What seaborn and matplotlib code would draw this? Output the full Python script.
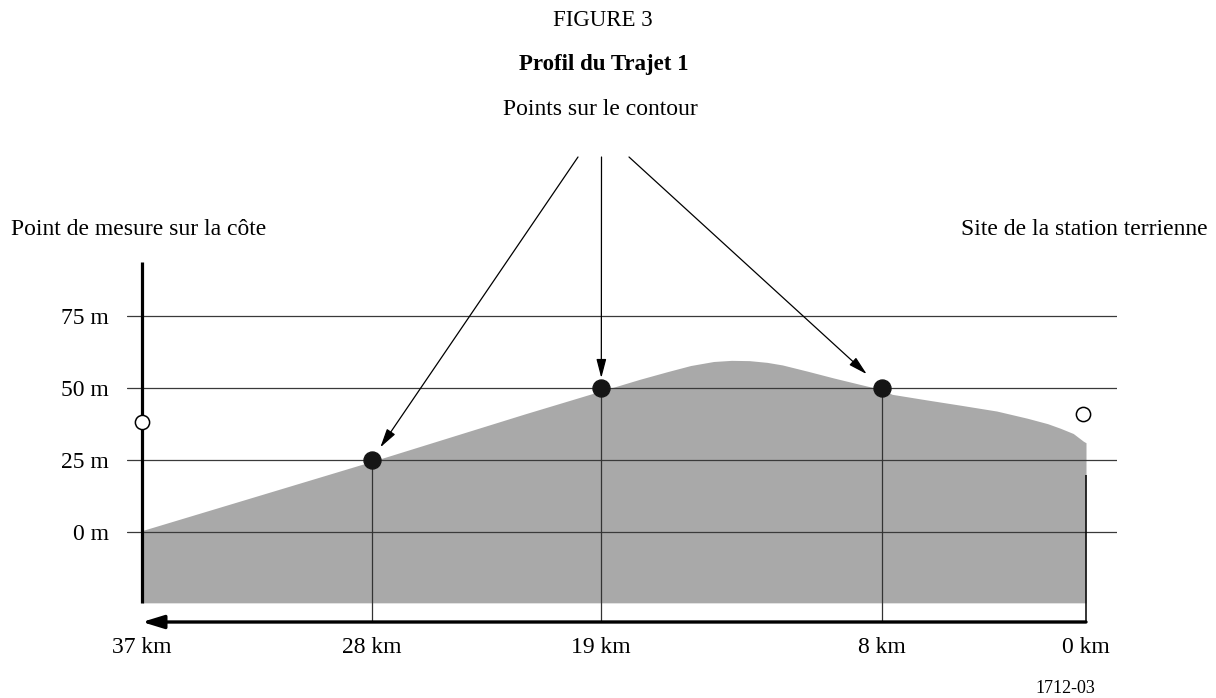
import matplotlib
matplotlib.use("Agg")
import matplotlib.pyplot as plt
import pandas as pd
import seaborn as sns

# Profil du terrain : distance depuis la station (km) et altitude (m)
profil_km = [37, 28, 22, 19, 17.5, 16.4, 15.5, 14.6, 13.9, 13.2, 12.5, 11.9, 10.9, 9.9,
             8.6, 8.0, 7.6, 6.2, 4.9, 3.5, 2.3, 1.5, 1.0, 0.5, 0.1, 0]
profil_m = [0.5, 24.5, 41, 49, 53, 55.7, 57.8, 59.2, 59.6, 59.5, 58.9, 58, 55.8, 53.5,
            50.7, 49.5, 47.8, 45.8, 44, 42, 39.5, 37.6, 36, 34.2, 31.5, 31]
base_m = -24.6

# Points sur le contour
contour_km = [28, 19, 8]
contour_m = [25, 50, 50]

# Antennes (point de mesure / station terrienne)
antenne_km = [37, 0.1]
antenne_m = [38.2, 41]
station_km = 0
station_haut_m = 19.8

yticks = [0, 25, 50, 75]
ytick_labels = ["0 m", "25 m", "50 m", "75 m"]
xticks = [37, 28, 19, 8, 0]
xtick_labels = ["37 km", "28 km", "19 km", "8 km", "0 km"]

df_profil = pd.DataFrame({"km": profil_km, "m": profil_m})
df_contour = pd.DataFrame({"km": contour_km, "m": contour_m})
df_antenne = pd.DataFrame({"km": antenne_km, "m": antenne_m})

sns.set_theme(style="white", rc={"text.color": "black", "xtick.color": "black",
                                 "ytick.color": "black", "axes.labelcolor": "black"})
plt.rcParams["font.family"] = ["Liberation Serif", "DejaVu Serif"]

W, H = 1216, 698
fig = plt.figure(figsize=(W / 100, H / 100), dpi=100)
ax = fig.add_axes([127 / W, 1 - 622 / H, 990 / W, 360 / H])
ax.set_xlim(37.593, -1.215)
ax.set_ylim(-31.25, 93.75)

# 📌 Relief
ax.fill_between(df_profil["km"], df_profil["m"], base_m, color="#a9a9a9", linewidth=0, zorder=1)

# 📌 Graduations et lignes horizontales
ax.set_yticks(yticks, ytick_labels, fontsize=17)
ax.set_xticks(xticks, xtick_labels, fontsize=17)
ax.tick_params(axis="y", length=0, pad=13)
ax.tick_params(axis="x", length=0, pad=11)
ax.grid(axis="y", color="#3a3a3a", linewidth=0.9)
ax.grid(axis="x", visible=False)
ax.set_axisbelow("line")
for s in ax.spines.values():
    s.set_visible(False)

# axe gauche (côte) et repère de la station
ax.vlines(37, base_m, 93.75, color="black", linewidth=2.3, zorder=3)
ax.vlines(station_km, -31.25, station_haut_m, color="black", linewidth=1.1, zorder=3)

# lignes verticales sous les points du contour
ax.vlines(df_contour["km"], -31.25, df_contour["m"], color="#333333", linewidth=0.9, zorder=3)

# flèche des distances
ax.annotate("", xy=(37, -31.25), xytext=(0, -31.25), xycoords="data",
            arrowprops=dict(arrowstyle="-|>,head_length=1.3,head_width=0.4", lw=2.4,
                            color="black", shrinkA=0, shrinkB=0, mutation_scale=10),
            annotation_clip=False, zorder=4)

# 📊 Points
sns.scatterplot(data=df_contour, x="km", y="m", ax=ax, s=150, color="#151515",
                edgecolor="#151515", zorder=5, legend=False, clip_on=False)
sns.scatterplot(data=df_antenne, x="km", y="m", ax=ax, s=105, color="white",
                edgecolor="black", linewidth=1.1, zorder=5, legend=False, clip_on=False)
ax.set_xlabel("")
ax.set_ylabel("")

# 📌 Flèches "Points sur le contour"
departs = [(578, H - 157), (601.5, H - 157), (629, H - 157)]
retraits = [11, 7.2, 14.8]
for (px, py), km, m, r in zip(departs, contour_km, contour_m, retraits):
    ax.annotate("", xy=(km, m), xycoords="data", xytext=(px, py), textcoords="figure pixels",
                arrowprops=dict(arrowstyle="-|>,head_length=1.15,head_width=0.3", lw=0.9,
                                color="black", shrinkA=0, shrinkB=r, mutation_scale=10),
                annotation_clip=False)

# 📌 Textes
fig.text(603 / W, 1 - 26.5 / H, "FIGURE 3", ha="center", va="baseline", fontsize=16.5)
fig.text(604 / W, 1 - 70 / H, "Profil du Trajet 1", ha="center", va="baseline",
         fontsize=16.5, fontweight="bold")
fig.text(600 / W, 1 - 115 / H, "Points sur le contour", ha="center", va="baseline", fontsize=17)
fig.text(11 / W, 1 - 235 / H, "Point de mesure sur la côte", ha="left", va="baseline", fontsize=17)
fig.text(1208 / W, 1 - 235 / H, "Site de la station terrienne", ha="right", va="baseline", fontsize=17)
fig.text(1065 / W, 1 - 693 / H, "1712-03", ha="center", va="baseline", fontsize=13)

fig.savefig("out.png", dpi=100)
